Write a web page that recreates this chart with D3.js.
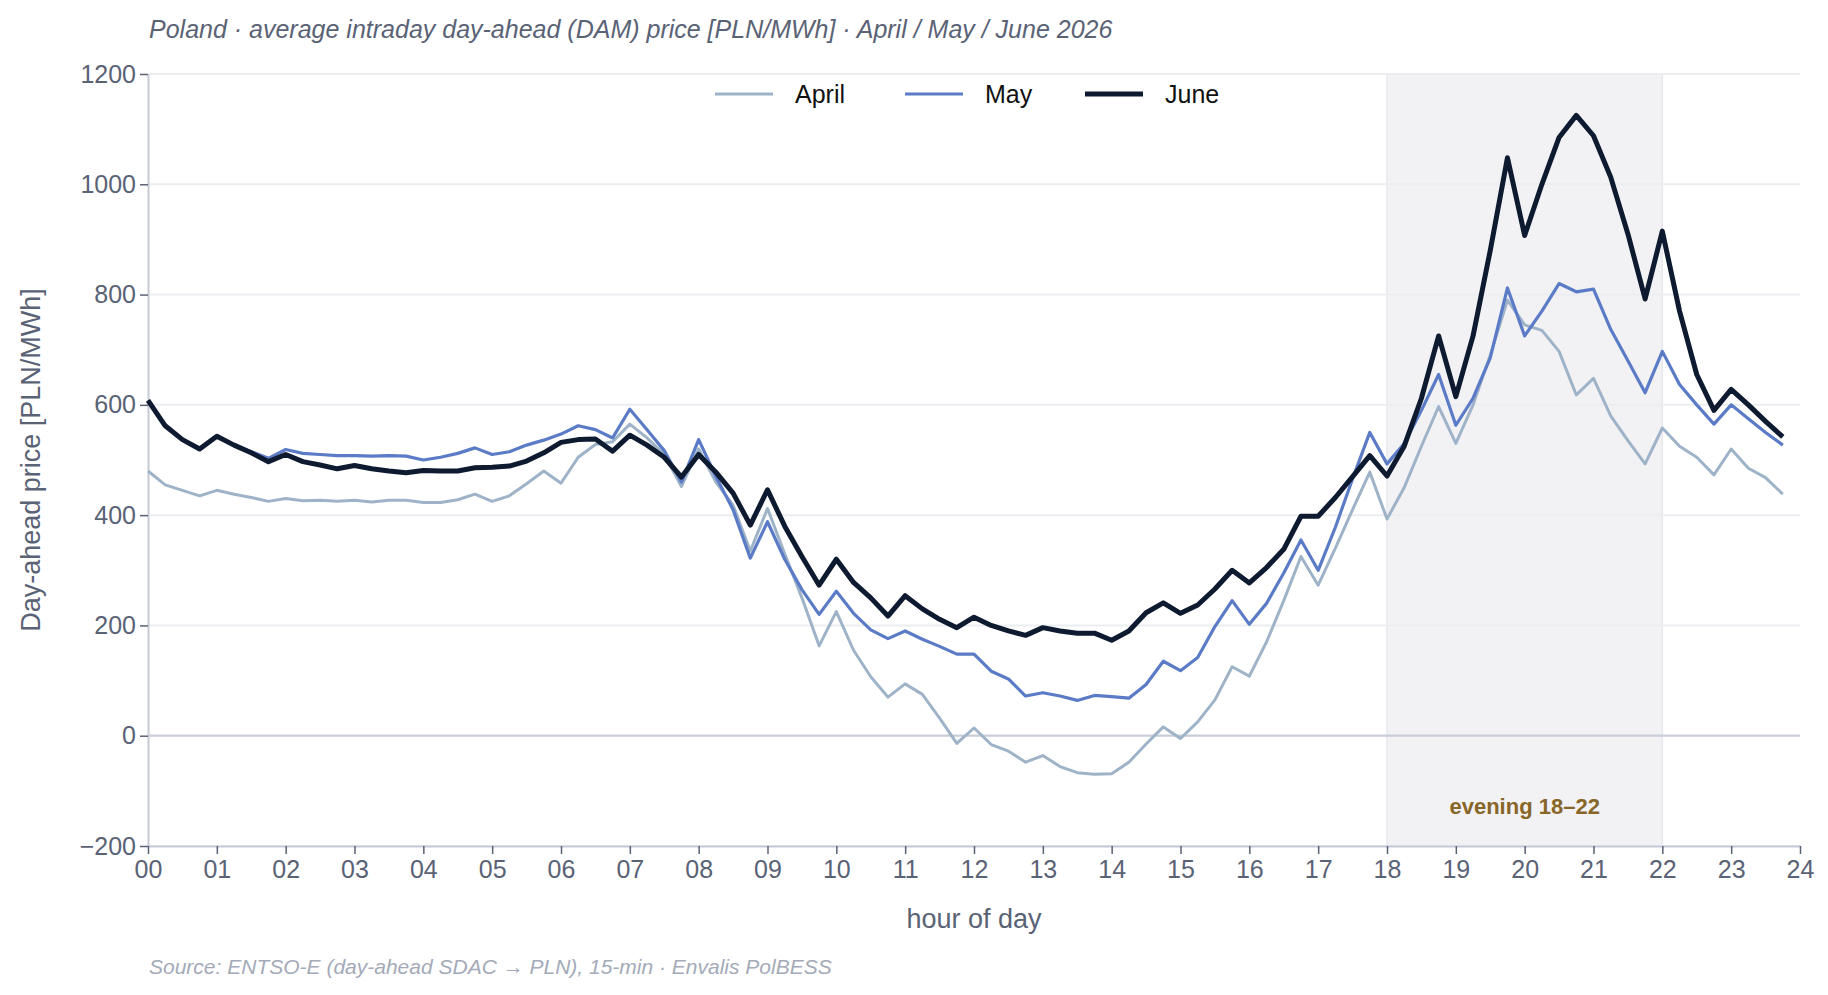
<!DOCTYPE html>
<html><head><meta charset="utf-8">
<script src="https://cdn.jsdelivr.net/npm/d3@7"></script>
<style>
body{margin:0;background:#fff;font-family:"Liberation Sans",Arial,sans-serif;}
</style></head>
<body><svg id="chart" width="1828" height="995"></svg>
<script>
// 15-minute averages, 00:00 .. 23:45
const aprilValues = [480,455,445,435,445,438,432,425,430,426,427,425,427,424,427,427,423,423,428,438,425,435,457,480,
  458,505,528,533,565,540,510,452,520,460,418,335,412,330,250,163,225,155,107,70,94,75,32,-14,
  14,-16,-28,-48,-36,-56,-67,-70,-69,-48,-15,16,-5,25,65,125,108,170,245,325,273,340,410,478,
  393,450,525,597,530,600,690,790,745,735,697,618,648,580,535,493,558,525,505,473,520,485,468,438];
const mayValues = [608,562,537,520,543,527,515,503,519,512,510,508,508,507,508,507,500,505,512,522,510,515,527,536,
  547,562,555,540,592,555,517,460,537,470,410,322,388,320,265,220,262,222,192,176,190,175,162,148,
  148,117,103,72,78,72,64,73,71,68,93,135,118,142,198,245,202,240,295,355,300,378,466,550,
  493,530,590,655,563,612,685,812,725,770,820,805,810,737,680,622,697,637,600,565,600,575,550,527];
const juneValues = [608,562,537,520,543,527,513,497,510,497,491,484,490,484,480,477,481,480,480,486,487,489,498,513,
  532,537,538,516,545,527,505,469,510,478,440,382,446,380,325,273,320,278,250,217,254,230,211,196,
  215,200,190,182,196,190,186,186,173,190,223,241,222,237,266,300,277,305,338,398,398,432,470,508,
  471,525,612,725,615,725,880,1048,907,1000,1085,1125,1088,1013,910,792,915,770,655,590,628,600,570,542];
const seriesNames = ["April", "May", "June"];
const hourTicks = d3.range(0, 25);
const priceTicks = [-200, 0, 200, 400, 600, 800, 1000, 1200];
const eveningWindow = [18, 22];

const series = [
  {name: "April", values: aprilValues, color: "#9fb3c8", width: 3},
  {name: "May", values: mayValues, color: "#5b7bc6", width: 3.2},
  {name: "June", values: juneValues, color: "#0e1a30", width: 5}
];

const margin = {top: 74, right: 28, bottom: 149, left: 148};
const W = 1828, H = 995;
const svg = d3.select("#chart");
const textCol = "#5a6275";

const x = d3.scaleLinear().domain([0, 24]).range([margin.left, W - margin.right]);
const y = d3.scaleLinear().domain([-200, 1200]).range([H - margin.bottom, margin.top]);

// evening shade
svg.append("rect")
  .attr("x", x(eveningWindow[0])).attr("y", y(1200))
  .attr("width", x(eveningWindow[1]) - x(eveningWindow[0]))
  .attr("height", y(-200) - y(1200))
  .attr("fill", "#f2f2f5");
svg.selectAll("line.vb").data(eveningWindow).enter().append("line")
  .attr("x1", d => x(d)).attr("x2", d => x(d))
  .attr("y1", y(1200)).attr("y2", y(-200))
  .attr("stroke", "#e6e8ee").attr("stroke-width", 1.5);

// grid
svg.selectAll("line.grid").data(priceTicks).enter().append("line")
  .attr("x1", x(0)).attr("x2", x(24))
  .attr("y1", d => y(d)).attr("y2", d => y(d))
  .attr("stroke", d => d === 0 ? "#c9cdd8" : "#ebedf1")
  .attr("stroke-width", d => d === 0 ? 2.2 : 2);

// axes
const yAxis = svg.append("g").attr("transform", `translate(${x(0)},0)`)
  .call(d3.axisLeft(y).tickValues(priceTicks).tickSize(8).tickSizeOuter(0).tickFormat(d => d < 0 ? "\u2212" + Math.abs(d) : d));
const xAxis = svg.append("g").attr("transform", `translate(0,${y(-200)})`)
  .call(d3.axisBottom(x).tickValues(hourTicks).tickSize(8).tickSizeOuter(0).tickFormat(d => d3.format("02d")(d)));
[yAxis, xAxis].forEach(g => {
  g.select(".domain").attr("stroke", "#c6cad6").attr("stroke-width", 2);
  g.selectAll(".tick line").attr("stroke", "#5a6275").attr("stroke-width", 1.5);
  g.selectAll(".tick text").attr("fill", textCol).style("font-size", "25px")
    .style("font-family", "Liberation Sans, Arial, sans-serif");
});
yAxis.selectAll(".tick text").attr("x", -12);
xAxis.selectAll(".tick text").attr("y", 14);

// lines
const line = d3.line().x((d, i) => x(i * 0.25)).y(d => y(d));
svg.selectAll("path.series").data(series).enter().append("path")
  .attr("d", d => line(d.values))
  .attr("fill", "none")
  .attr("stroke", d => d.color)
  .attr("stroke-width", d => d.width)
  .attr("stroke-linejoin", "round");

// annotation
svg.append("text").attr("x", x(20)).attr("y", 814)
  .attr("text-anchor", "middle").attr("fill", "#876628")
  .style("font-size", "22px").style("font-weight", "bold").text("evening 18\u201322");

// legend
const legend = svg.append("g").attr("transform", "translate(715,94)");
const legendX = [0, 190, 370];
series.forEach((s, i) => {
  const g = legend.append("g").attr("transform", `translate(${legendX[i]},0)`);
  g.append("line").attr("x1", 0).attr("x2", 58).attr("stroke", s.color).attr("stroke-width", s.width);
  g.append("text").attr("x", 80).attr("y", 9).attr("fill", "#111").style("font-size", "25px").text(s.name);
});

// titles
svg.append("text").attr("x", 149).attr("y", 38).attr("fill", textCol)
  .style("font-size", "25px").style("font-style", "italic")
  .text("Poland \u00b7 average intraday day-ahead (DAM) price [PLN/MWh] \u00b7 April / May / June 2026");
svg.append("text").attr("x", x(12)).attr("y", 928).attr("text-anchor", "middle")
  .attr("fill", textCol).style("font-size", "27px").text("hour of day");
svg.append("text").attr("transform", `translate(40,${y(500)}) rotate(-90)`).attr("text-anchor", "middle")
  .attr("fill", textCol).style("font-size", "27px").text("Day-ahead price [PLN/MWh]");
svg.append("text").attr("x", 149).attr("y", 974).attr("fill", "#a4aab8")
  .style("font-size", "21px").style("font-style", "italic")
  .text("Source: ENTSO-E (day-ahead SDAC \u2192 PLN), 15-min \u00b7 Envalis PolBESS");
</script></body></html>
